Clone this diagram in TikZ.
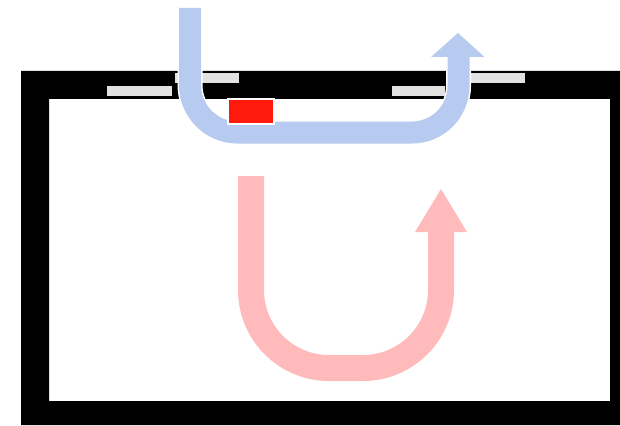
\documentclass[tikz,border=0pt]{standalone}
\definecolor{flowblue}{HTML}{B7CBF0}
\definecolor{flowpink}{HTML}{FFBBBB}
\definecolor{bargray}{HTML}{E2E2E2}
\definecolor{heatred}{HTML}{FF1A0D}
\tikzset{
  wall/.style={fill=black,draw=none},
  ventbar/.style={fill=bargray,draw=none},
  halo/.style={draw=white,line width=25pt},
  bluepipe/.style={draw=flowblue,line width=22pt},
  pinkpipe/.style={draw=flowpink,line width=26pt},
}
\begin{document}
\begin{tikzpicture}[x=1pt,y=-1pt]
\useasboundingbox (0,0) rectangle (620,425);
\fill[white] (0,0) rectangle (620,425);
% walls
\fill[wall,even odd rule] (21,71) rectangle (620,425) (49,99) rectangle (610,401);
% vents
\fill[ventbar] (107,86) rectangle (172,96.5);
\fill[ventbar] (175,73.5) rectangle (239,83);
\fill[ventbar] (392,86) rectangle (445,96.5);
\fill[ventbar] (460,73.5) rectangle (525,83.5);
% blue arrow
\draw[halo] (190,60) -- (190,85) arc[start angle=180,end angle=90,radius=47.5] -- (412,132.5) arc[start angle=90,end angle=0,radius=46.5] -- (458.5,60);
\draw[bluepipe] (190,8) -- (190,85) arc[start angle=180,end angle=90,radius=47.5] -- (412,132.5) arc[start angle=90,end angle=0,radius=46.5] -- (458.5,56);
\fill[flowblue] (458,33) -- (484.5,57) -- (431,57) -- cycle;
% heater
\fill[white] (226.5,98.5) rectangle (274.5,124.5);
\fill[heatred] (228.5,100.5) rectangle (272.5,122.5);
% pink arrow
\draw[pinkpipe] (251,176) -- (251,290) arc[start angle=180,end angle=90,radius=78] -- (363,368) arc[start angle=90,end angle=0,radius=78] -- (441,231);
\fill[flowpink] (441,189) -- (467,232) -- (415,232) -- cycle;
\end{tikzpicture}
\end{document}
